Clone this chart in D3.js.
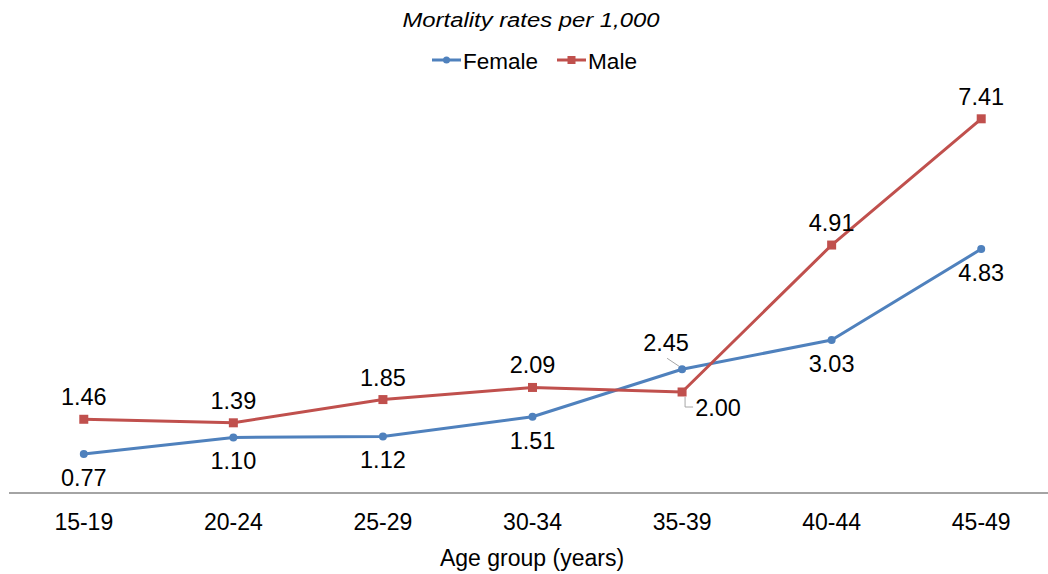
<!DOCTYPE html>
<html>
<head>
<meta charset="utf-8">
<script src="https://cdn.jsdelivr.net/npm/d3@7"></script>
<style>
  body { margin: 0; background: #fff; }
  text { font-family: "Liberation Sans", Arial, sans-serif; fill: #000; }
</style>
</head>
<body>
<script>
var ageGroups = ["15-19", "20-24", "25-29", "30-34", "35-39", "40-44", "45-49"];
var female = [0.77, 1.10, 1.12, 1.51, 2.45, 3.03, 4.83];
var male = [1.46, 1.39, 1.85, 2.09, 2.00, 4.91, 7.41];
var seriesNames = ["Female", "Male"];
var colors = ["#4f81bd", "#c0504d"];

var width = 1048, height = 574;

var svg = d3.select("body").append("svg")
    .attr("width", width)
    .attr("height", height);

// scales
var x = d3.scaleBand()
    .domain(ageGroups)
    .range([9, 1056]);
var y = d3.scaleLinear()
    .domain([0, 8])
    .range([493, 89]);

function cx(i) { return x(ageGroups[i]) + x.bandwidth() / 2; }

// title
svg.append("text")
    .attr("x", 531).attr("y", 27)
    .attr("text-anchor", "middle")
    .style("font-size", "20.5px")
    .style("font-style", "italic")
    .attr("textLength", 257)
    .attr("lengthAdjust", "spacingAndGlyphs")
    .text("Mortality rates per 1,000");

// legend
var legend = [
  {name: seriesNames[0], lx: 432, tx: 463, tw: 75},
  {name: seriesNames[1], lx: 557, tx: 588, tw: 49}
];
legend.forEach(function(d, i) {
  var g = svg.append("g");
  g.append("line")
      .attr("x1", d.lx).attr("x2", d.lx + 29)
      .attr("y1", 60).attr("y2", 60)
      .attr("stroke", colors[i]).attr("stroke-width", 3);
  if (i === 0) {
    g.append("circle").attr("cx", d.lx + 14.5).attr("cy", 60).attr("r", 3.5).attr("fill", colors[i]);
  } else {
    g.append("rect").attr("x", d.lx + 10.5).attr("y", 56).attr("width", 8).attr("height", 8).attr("fill", colors[i]);
  }
  g.append("text")
      .attr("x", d.tx).attr("y", 69)
      .style("font-size", "21.5px")
      .attr("textLength", d.tw)
      .attr("lengthAdjust", "spacingAndGlyphs")
      .text(d.name);
});

// x axis
var xAxis = svg.append("g")
    .attr("transform", "translate(0,493)")
    .call(d3.axisBottom(x).tickSize(0).tickPadding(21));
xAxis.select(".domain").attr("d", "M9,0H1048").attr("stroke", "#868686").attr("stroke-width", 1.5);
xAxis.selectAll("text")
    .style("font-size", "23px")
    .style("font-family", "'Liberation Sans', Arial, sans-serif")
    .attr("fill", "#000");

svg.append("text")
    .attr("x", 532).attr("y", 566)
    .attr("text-anchor", "middle")
    .style("font-size", "23px")
    .text("Age group (years)");

// lines
var line = d3.line()
    .x(function(d, i) { return cx(i); })
    .y(function(d) { return y(d); });

[female, male].forEach(function(vals, s) {
  svg.append("path")
      .datum(vals)
      .attr("d", line)
      .attr("fill", "none")
      .attr("stroke", colors[s])
      .attr("stroke-width", 3)
      .attr("stroke-linejoin", "round");
});

// markers
svg.selectAll(".fdot")
    .data(female)
    .enter().append("circle")
    .attr("cx", function(d, i) { return cx(i); })
    .attr("cy", function(d) { return y(d); })
    .attr("r", 4)
    .attr("fill", colors[0]);

svg.selectAll(".mdot")
    .data(male)
    .enter().append("rect")
    .attr("x", function(d, i) { return cx(i) - 4.5; })
    .attr("y", function(d) { return y(d) - 4.5; })
    .attr("width", 9).attr("height", 9)
    .attr("fill", colors[1]);

// leader lines for the crowded 35-39 labels
var i4 = 4;
svg.append("path")
    .attr("d", "M" + (cx(i4) - 15) + "," + (y(female[i4]) - 11) + "L" + (cx(i4) - 3) + "," + (y(female[i4]) - 3))
    .attr("stroke", "#a6a6a6").attr("fill", "none");
svg.append("path")
    .attr("d", "M" + (cx(i4) + 3) + "," + (y(male[i4]) + 5) + "V" + (y(male[i4]) + 15) + "h8")
    .attr("stroke", "#a6a6a6").attr("fill", "none");

// data labels
svg.selectAll(".flab")
    .data(female)
    .enter().append("text")
    .attr("text-anchor", "middle")
    .style("font-size", "23.5px")
    .attr("x", function(d, i) { return cx(i) + (i === 4 ? -16 : 0); })
    .attr("y", function(d, i) { return y(d) + (i === 4 ? -18 : 32); })
    .text(function(d) { return d.toFixed(2); });

svg.selectAll(".mlab")
    .data(male)
    .enter().append("text")
    .attr("text-anchor", "middle")
    .style("font-size", "23.5px")
    .attr("x", function(d, i) { return cx(i) + (i === 4 ? 36 : 0); })
    .attr("y", function(d, i) { return y(d) + (i === 4 ? 24 : -14); })
    .text(function(d) { return d.toFixed(2); });
</script>
</body>
</html>
